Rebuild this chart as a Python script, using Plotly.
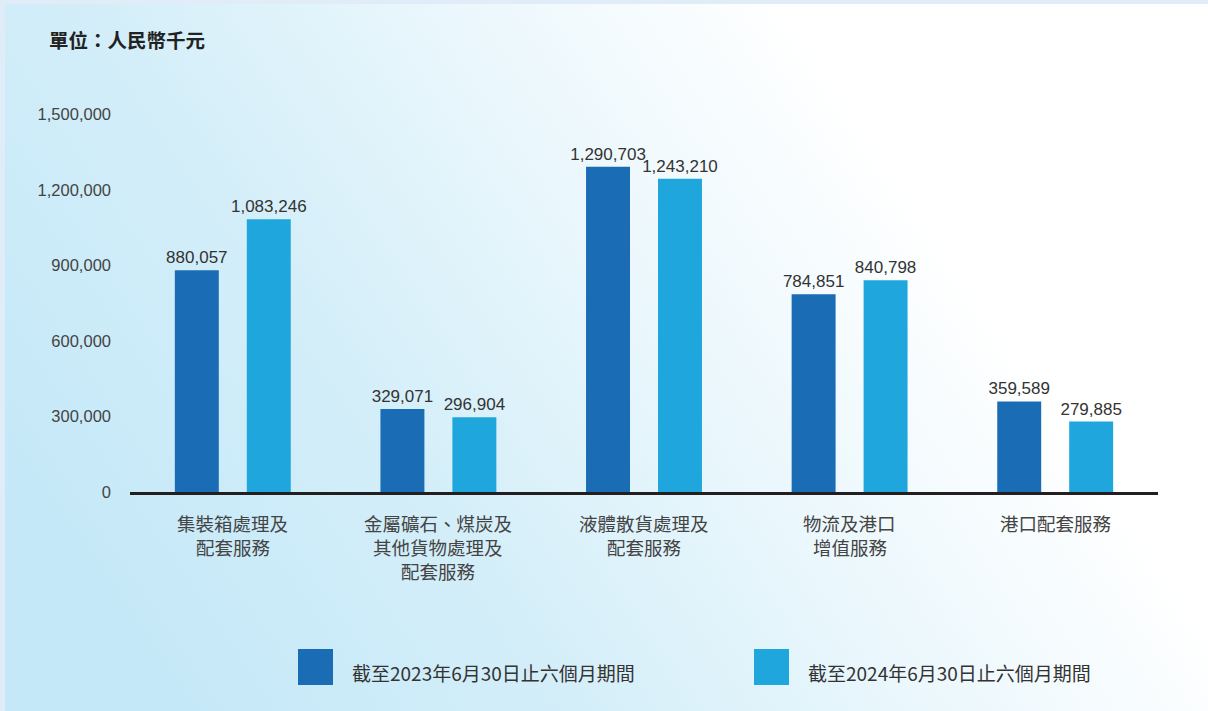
import base64
import plotly.graph_objects as go

categories = [
    "集裝箱處理及<br>配套服務",
    "金屬礦石、煤炭及<br>其他貨物處理及<br>配套服務",
    "液體散貨處理及<br>配套服務",
    "物流及港口<br>增值服務",
    "港口配套服務",
]
series_names = ["截至2023年6月30日止六個月期間", "截至2024年6月30日止六個月期間"]
values_2023 = [880057, 329071, 1290703, 784851, 359589]
values_2024 = [1083246, 296904, 1243210, 840798, 279885]
y_ticks = [0, 300000, 600000, 900000, 1200000, 1500000]
unit_label = "單位：人民幣千元"

colors = ["#1a6db5", "#1ea6dd"]

W, H = 1208, 711
L, R, T, B = 130, 50, 94, 219
pw, ph = W - L - R, H - T - B


def px_x(p):
    return (p - L) / pw


def px_y(p):
    return (H - B - p) / ph


svg = """<svg xmlns='http://www.w3.org/2000/svg' width='1203' height='707' viewBox='0 0 1203 707' preserveAspectRatio='none'>
<defs><linearGradient id='g' x1='0' y1='0.7' x2='1' y2='0.3'>
<stop offset='0' stop-color='#c4e8f8'/>
<stop offset='0.3' stop-color='#d3eef9'/>
<stop offset='0.55' stop-color='#eaf7fc'/>
<stop offset='0.8' stop-color='#ffffff'/>
<stop offset='1' stop-color='#ffffff'/>
</linearGradient></defs>
<rect width='1203' height='707' fill='url(#g)'/></svg>"""
src = "data:image/svg+xml;base64," + base64.b64encode(svg.encode()).decode()

fig = go.Figure()
x_idx = list(range(len(categories)))
for name, vals, col in zip(series_names, [values_2023, values_2024], colors):
    fig.add_trace(go.Bar(
        x=x_idx, y=vals, name=name, marker=dict(color=col, line=dict(width=0)),
        texttemplate="%{y:,}", textposition="outside", constraintext="none",
        textfont=dict(family="Liberation Sans, Arial, sans-serif", size=17, color="#333333"),
        cliponaxis=False, hoverinfo="skip",
    ))

shapes = []
annotations = [dict(
    text="<b>" + unit_label + "</b>", xref="paper", yref="paper",
    x=px_x(47), y=px_y(39), xanchor="left", yanchor="middle", showarrow=False,
    font=dict(family="Noto Sans CJK TC", size=19.5, color="#222222"),
)]

# category labels: one annotation per line so the line spacing matches
for i, cat in enumerate(categories):
    for j, line in enumerate(cat.split("<br>")):
        annotations.append(dict(
            text=line, xref="x", yref="paper", x=i, y=px_y(523 + 24 * j),
            xanchor="center", yanchor="middle", showarrow=False, borderpad=0,
            font=dict(family="Noto Sans CJK TC", size=18.5, color="#444444"),
        ))

legend_sw = [298, 754]
for i, (name, col) in enumerate(zip(series_names, colors)):
    x0 = legend_sw[i]
    shapes.append(dict(type="rect", xref="paper", yref="paper",
                       x0=px_x(x0), x1=px_x(x0 + 35), y0=px_y(685), y1=px_y(649),
                       fillcolor=col, line=dict(width=0)))
    annotations.append(dict(
        text=name, xref="paper", yref="paper", x=px_x(x0 + 52), y=px_y(672),
        xanchor="left", yanchor="middle", showarrow=False,
        font=dict(family="Noto Sans CJK TC", size=19, color="#333333"),
    ))

fig.update_layout(
    width=W, height=H,
    margin=dict(l=L, r=R, t=T, b=B),
    paper_bgcolor="#e0edf8",
    plot_bgcolor="rgba(0,0,0,0)",
    barmode="group", bargap=0.3, bargroupgap=0.389,
    showlegend=False,
    shapes=shapes, annotations=annotations,
    images=[dict(source=src, xref="paper", yref="paper",
                 x=px_x(5), y=px_y(4), sizex=(W - 5) / pw, sizey=(H - 4) / ph,
                 xanchor="left", yanchor="top", sizing="stretch", layer="below")],
    xaxis=dict(
        range=[-0.5, len(categories) - 0.5], tickvals=x_idx, showticklabels=False,
        showline=True, linecolor="#231f20", linewidth=3, showgrid=False, zeroline=False,
        ticks="", fixedrange=True,
    ),
    yaxis=dict(
        range=[0, 1580000], tickvals=y_ticks, tickformat=",",
        showgrid=False, zeroline=False, showline=False, ticks="",
        tickfont=dict(family="Liberation Sans, Arial, sans-serif", size=16.5, color="#444444"),
        ticklabelstandoff=18, fixedrange=True,
    ),
)

fig.write_html("out.html", config={"displayModeBar": False},
               post_script="document.body.style.margin='0px';document.body.style.overflow='hidden';")
